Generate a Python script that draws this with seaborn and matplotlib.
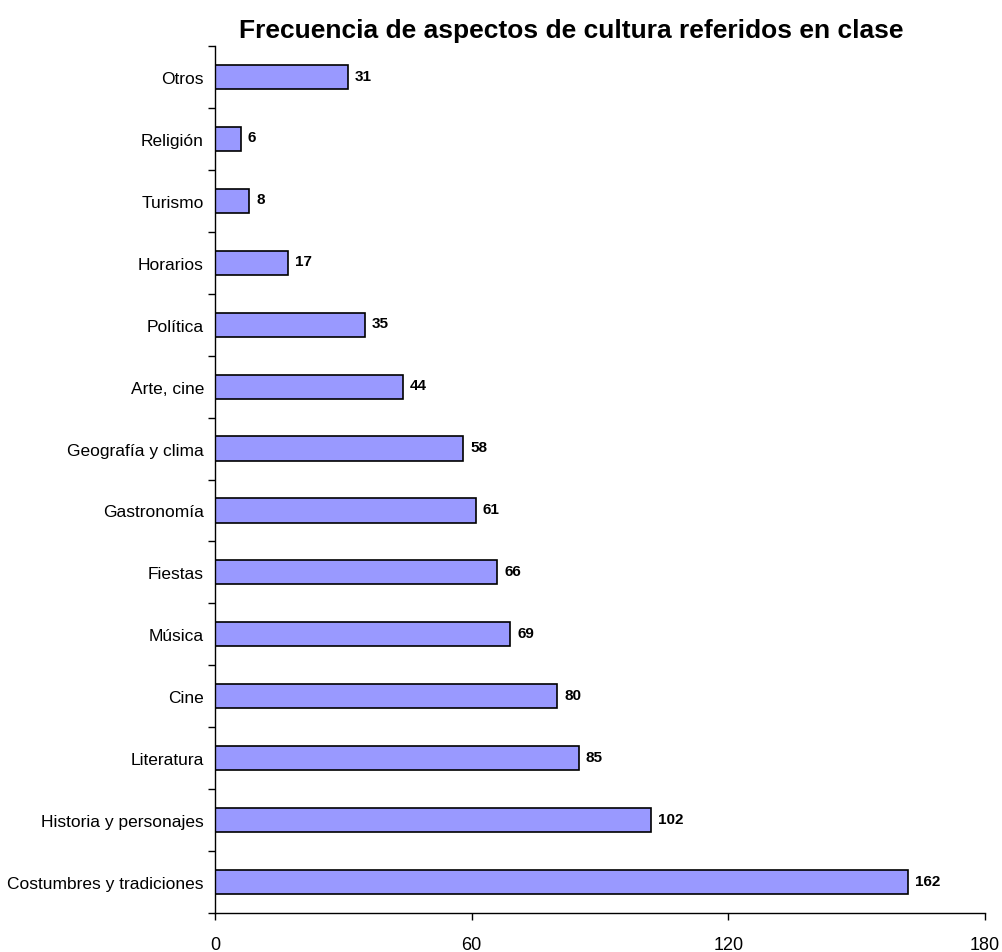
import numpy as np
import matplotlib
matplotlib.use("Agg")
import matplotlib.pyplot as plt
import seaborn as sns
import pandas as pd

# datos
categorias = ["Otros", "Religión", "Turismo", "Horarios", "Política", "Arte, cine",
              "Geografía y clima", "Gastronomía", "Fiestas", "Música", "Cine",
              "Literatura", "Historia y personajes", "Costumbres y tradiciones"]
valores = [31, 6, 8, 17, 35, 44, 58, 61, 66, 69, 80, 85, 102, 162]
xticks = [0, 60, 120, 180]

df = pd.DataFrame({"categoria": categorias, "valor": valores})

sns.set_style("white", {"xtick.bottom": True, "ytick.left": True,
                        "text.color": "black", "xtick.color": "black",
                        "ytick.color": "black", "axes.edgecolor": "black"})
plt.rcParams['font.family'] = ['Liberation Sans Narrow', 'Liberation Sans', 'DejaVu Sans']

fig = plt.figure(figsize=(10.02, 9.53), dpi=100)
ax = fig.add_axes([0.2146, 0.0409, 0.7684, 0.9098])

sns.barplot(data=df, x="valor", y="categoria", order=categorias, orient="h",
            color="#9999FF", saturation=1, edgecolor="black", linewidth=1.2,
            width=0.39, ax=ax)

# etiquetas de valor
for i, v in enumerate(valores):
    ax.annotate(str(v), xy=(v, i), xytext=(5, 1), textcoords="offset points",
                ha="left", va="center", fontsize=11, fontweight="bold",
                color="black")

ax.set_xlim(0, 180)
ax.set_ylim(13.5, -0.5)
ax.set_xticks(xticks)
ax.set_xticklabels([str(t) for t in xticks], fontsize=13)
ax.set_yticks(range(len(categorias)))
ax.set_yticklabels(categorias, fontsize=12.5)
ax.set_yticks(np.arange(-0.5, len(categorias)), minor=True)
ax.tick_params(axis="y", which="major", left=False, length=0, pad=8)
ax.tick_params(axis="y", which="minor", left=True, length=5, width=1, color="black", direction="out")
ax.tick_params(axis="x", which="major", bottom=True, length=5, width=1, color="black", direction="out", pad=11.5)
ax.set_xlabel("")
ax.set_ylabel("")
for s in ["top", "right"]:
    ax.spines[s].set_visible(False)
for s in ["left", "bottom"]:
    ax.spines[s].set_color("black")
    ax.spines[s].set_linewidth(1)

fig.text(0.57, 0.967, "Frecuencia de aspectos de cultura referidos en clase",
         ha="center", va="center", fontsize=19, fontweight="bold", color="black")

fig.savefig("out.png", dpi=100)
